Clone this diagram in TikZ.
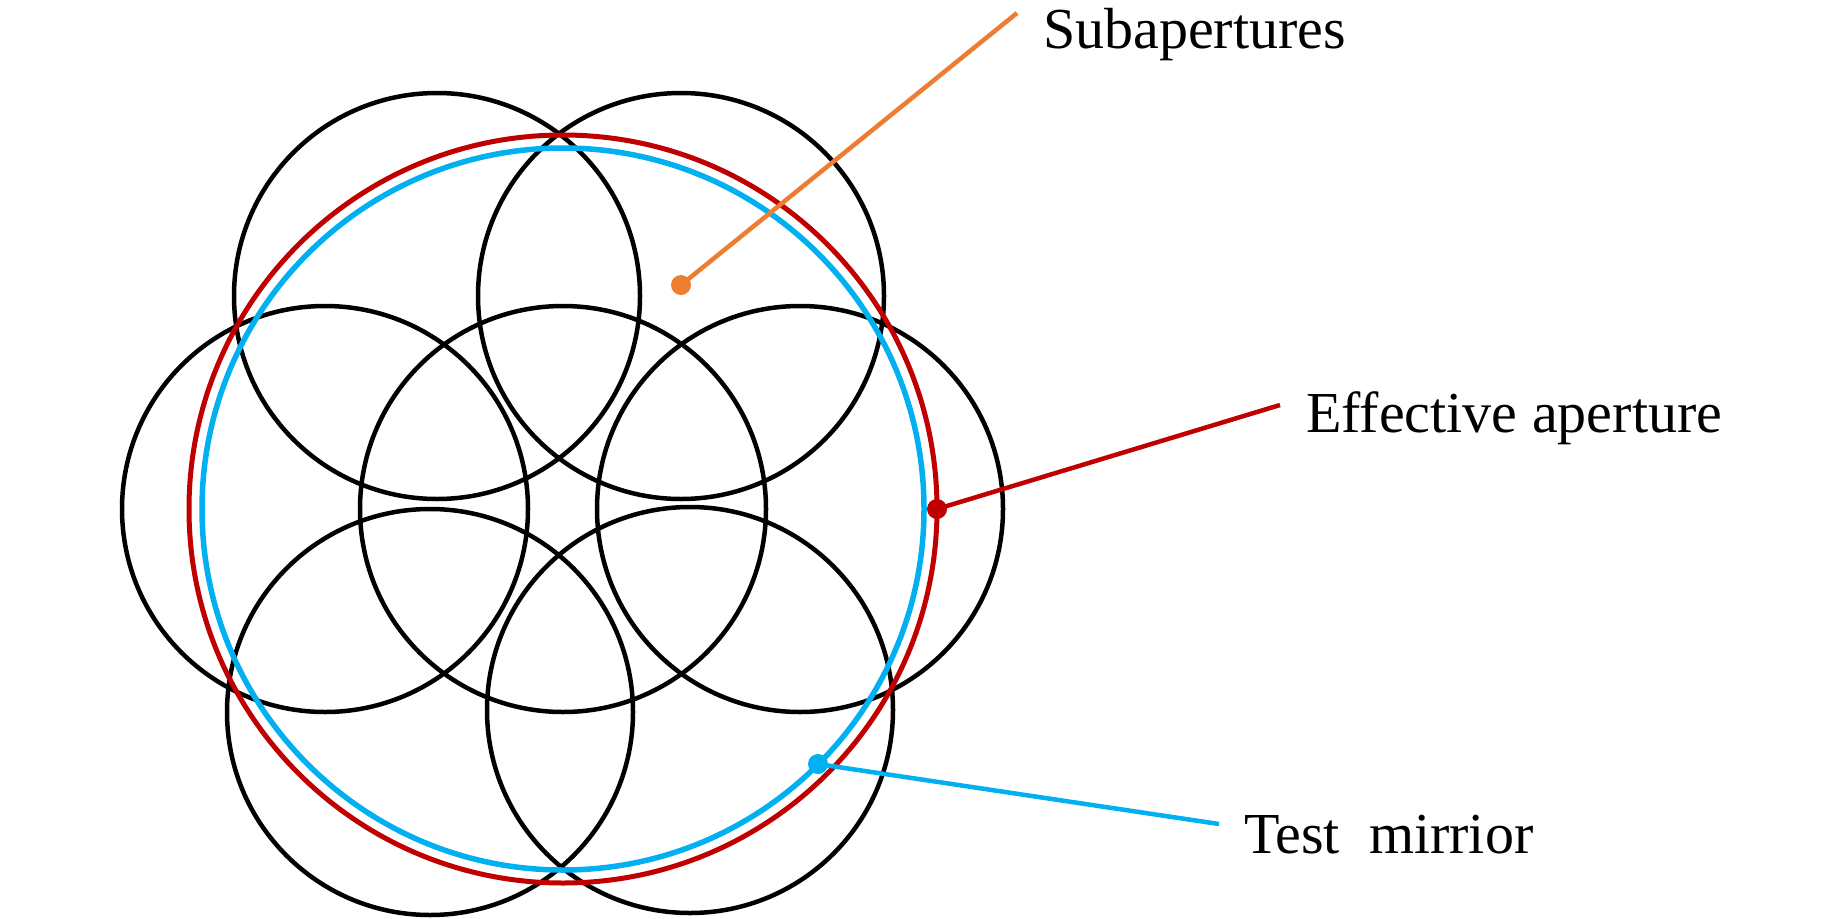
\documentclass[tikz,border=0pt]{standalone}
\usepackage{fontspec}
\setmainfont{Liberation Serif}
\definecolor{apred}{HTML}{C00000}
\definecolor{apblue}{HTML}{00B0F0}
\definecolor{aporange}{HTML}{ED7D31}
\tikzset{
	subap/.style={black,line width=4.5pt},
	dot/.style={circle,fill,inner sep=0pt,minimum size=20pt},
	lead/.style={line width=4.5pt},
	lbl/.style={anchor=base west,inner sep=0pt,font=\fontsize{58}{69}\selectfont},
}
\begin{document}
\begin{tikzpicture}[x=1pt,y=-1pt]
	\useasboundingbox (0,0) rectangle (1843,918);
	\coordinate (c) at (563,509);
	% subaperture circles
	\foreach \cx/\cy in {563/509,325/509,800/509,437/296,681/296,430/712,690/710}
		\draw[subap] (\cx,\cy) circle[radius=203pt];
	\draw[apblue,line width=5.5pt] (c) circle[radius=361pt];
	\draw[apred,line width=5pt] (c) circle[radius=374pt];
	% labels
	\node[dot,aporange] (subdot) at (681,285) {};
	\coordinate (subend) at (1017,13);
	\draw[aporange,lead] (subdot.center) -- (subend);
	\node[lbl] (sublabel) at (1043,48) {Subapertures};
	\node[dot,apred] (effdot) at (937,509) {};
	\coordinate (effend) at (1280,405);
	\draw[apred,lead] (effdot.center) -- (effend);
	\node[lbl] (efflabel) at (1306,432) {Effective aperture};
	\node[dot,apblue] (mirdot) at (818,764) {};
	\coordinate (mirend) at (1219,824);
	\draw[apblue,lead] (mirdot.center) -- (mirend);
	\node[lbl] (mirlabel) at (1244,853) {Test\ \ mirrior};
\end{tikzpicture}
\end{document}
